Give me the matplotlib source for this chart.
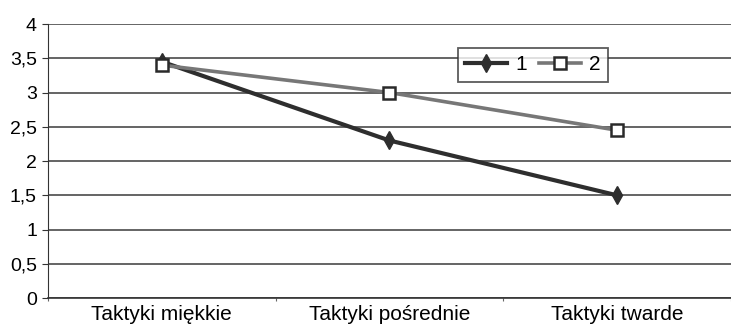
import matplotlib.pyplot as plt
from matplotlib.ticker import FixedLocator, FuncFormatter

categories = ['Taktyki miękkie', 'Taktyki pośrednie', 'Taktyki twarde']
series1 = [3.45, 2.3, 1.5]
series2 = [3.4, 3.0, 2.45]
yticks = [0, 0.5, 1, 1.5, 2, 2.5, 3, 3.5, 4]

plt.rcParams['font.family'] = ['Liberation Sans Narrow', 'Liberation Sans', 'DejaVu Sans']

fig = plt.figure(figsize=(7.31, 3.29), dpi=100)
ax = fig.add_axes([0.0657, 0.094, 0.934, 0.833])

x = list(range(len(categories)))
ax.plot(x, series1, color='#2e2e2e', lw=3.0, marker='d', ms=9,
        mfc='#2e2e2e', mec='#2e2e2e', label='1', zorder=3)
ax.plot(x, series2, color='#777777', lw=2.6, marker='s', ms=9,
        mfc='white', mec='#2a2a2a', mew=1.8, label='2', zorder=3)

ax.set_xlim(-0.5, 2.5)
ax.set_ylim(0, 4)
ax.set_yticks(yticks)
ax.yaxis.set_major_formatter(FuncFormatter(lambda v, p: ('%g' % v).replace('.', ',')))
ax.yaxis.grid(True, color='#3a3a3a', lw=1.1)
ax.set_axisbelow(True)

ax.set_xticks(x)
ax.set_xticklabels(categories, fontsize=15)
ax.tick_params(axis='x', which='major', length=0, pad=5)
ax.xaxis.set_minor_locator(FixedLocator([-0.5, 0.5, 1.5, 2.5]))
ax.tick_params(axis='x', which='minor', length=2.5, width=0.8, color='#666666')
ax.tick_params(axis='y', labelsize=14, length=4, color='#333333', pad=4)

for s in ['top', 'right']:
    ax.spines[s].set_visible(False)
ax.spines['left'].set_color('#333333')
ax.spines['bottom'].set_color('#333333')
ax.spines['bottom'].set_linewidth(1.2)

leg = ax.legend(loc='upper left', bbox_to_anchor=(0.585, 0.95), ncol=2,
                fontsize=15, frameon=True, fancybox=False, handlelength=2.0,
                columnspacing=0.6, handletextpad=0.4, borderpad=0.35)
leg.get_frame().set_edgecolor('#333333')
leg.get_frame().set_linewidth(1.3)

fig.savefig('out.png', dpi=100, facecolor='white')
